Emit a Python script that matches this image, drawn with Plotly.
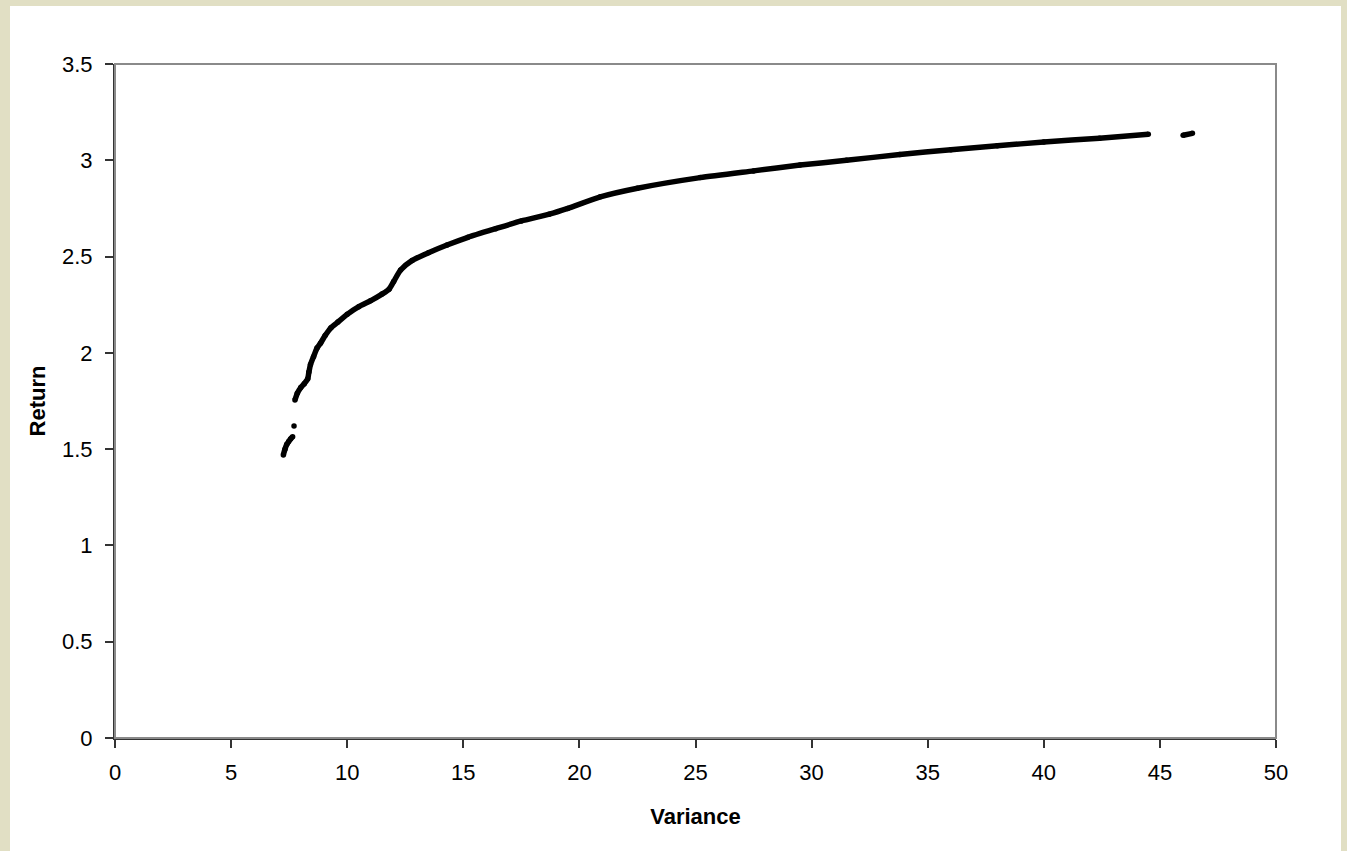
import plotly.graph_objects as go

# Segments of the efficient-frontier-like curve (variance, return)
seg1_x = [7.25, 7.32, 7.40, 7.48, 7.56, 7.65]
seg1_y = [1.47, 1.50, 1.525, 1.54, 1.553, 1.565]

dot_x = [7.71]
dot_y = [1.62]

seg2_x = [7.75, 7.85, 8.0, 8.15, 8.3, 8.35, 8.42, 8.55, 8.7, 8.85, 9.05, 9.3, 9.6, 10.0,
          10.5, 11.0, 11.5, 11.8, 12.0, 12.3, 12.8, 13.5, 14.3, 15.2, 16.4, 17.5, 18.7,
          19.5, 20.9, 22.5, 25.2, 27.5, 29.5, 31.5, 33.8, 36.0, 38.0, 40.0, 42.4, 44.5]
seg2_y = [1.755, 1.79, 1.82, 1.84, 1.865, 1.90, 1.94, 1.98, 2.025, 2.05, 2.09, 2.13, 2.16, 2.2,
          2.24, 2.27, 2.305, 2.33, 2.37, 2.43, 2.48, 2.52, 2.56, 2.6, 2.645, 2.685, 2.72,
          2.75, 2.81, 2.855, 2.91, 2.945, 2.975, 3.0, 3.03, 3.055, 3.075, 3.095, 3.115, 3.135]

seg3_x = [46.0, 46.4]
seg3_y = [3.13, 3.14]

x_ticks = [0, 5, 10, 15, 20, 25, 30, 35, 40, 45, 50]
y_ticks = [0, 0.5, 1, 1.5, 2, 2.5, 3, 3.5]

W, H = 1347, 851
L, R, T, B = 115, 71, 64, 113
pw, ph = W - L - R, H - T - B

fig = go.Figure()
for xs, ys in [(seg1_x, seg1_y), (dot_x, dot_y), (seg2_x, seg2_y), (seg3_x, seg3_y)]:
    fig.add_trace(go.Scatter(
        x=xs, y=ys, mode="lines+markers",
        line=dict(color="black", width=5.5, shape="spline", smoothing=0.6),
        marker=dict(color="black", size=5.5),
        showlegend=False, hoverinfo="x+y"))

font = "Liberation Sans, Arial, sans-serif"

# white panel over beige page
fig.add_shape(type="rect", xref="paper", yref="paper",
              x0=(10 - L) / pw, x1=(1341 - L) / pw,
              y0=-(H + 20 - T - ph) / ph - 0.05, y1=(H - B - 6) / ph,
              fillcolor="white", line=dict(width=0), layer="below")
# plot border (gray)
fig.add_shape(type="rect", xref="paper", yref="paper", x0=0, x1=1, y0=0, y1=1,
              line=dict(color="#8a8a8a", width=2), fillcolor="rgba(0,0,0,0)", layer="above")

fig.update_layout(
    width=W, height=H,
    margin=dict(l=L, r=R, t=T, b=B),
    paper_bgcolor="#e1dfc4",
    plot_bgcolor="white",
    font=dict(family=font, size=22, color="black"),
    xaxis=dict(range=[0, 50], tickvals=x_ticks, showgrid=False, zeroline=False,
               showline=True, linecolor="#333333", linewidth=2,
               ticks="outside", ticklen=8, tickcolor="#333333", tickwidth=1.5,
               tickfont=dict(size=22), ticklabelstandoff=6,
               title=dict(text="<b>Variance</b>", font=dict(size=22), standoff=24)),
    yaxis=dict(range=[0, 3.5], tickvals=y_ticks, showgrid=False, zeroline=False,
               showline=True, linecolor="#333333", linewidth=2,
               ticks="outside", ticklen=8, tickcolor="#333333", tickwidth=1.5,
               tickfont=dict(size=22), ticklabelstandoff=8,
               title=dict(text="<b>Return</b>", font=dict(size=22), standoff=10)),
)

fig.write_html("out.html")
